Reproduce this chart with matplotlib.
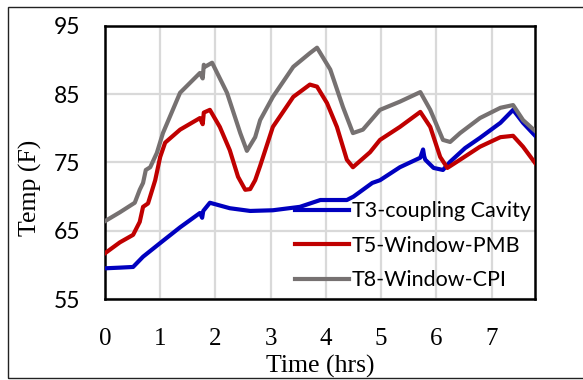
import numpy as np
import matplotlib
matplotlib.use("Agg")
import matplotlib.pyplot as plt
from matplotlib.patches import Rectangle

# values (time in hrs, temperature in F)
t_t3 = [0.0, 0.27, 0.51, 0.69, 1.0, 1.36, 1.72, 1.76, 1.78, 1.9, 2.26, 2.63, 3.04,
        3.53, 3.9, 4.38, 4.5, 4.84, 4.98, 5.34, 5.71, 5.76, 5.78, 5.8, 5.95, 6.12,
        6.25, 6.52, 6.79, 7.16, 7.39, 7.57, 7.79]
temp_t3 = [59.5, 59.6, 59.7, 61.2, 63.2, 65.5, 67.6, 66.9, 67.9, 69.1, 68.3, 67.9, 68.0,
           68.5, 69.5, 69.5, 70.0, 72.0, 72.4, 74.3, 75.7, 76.9, 75.9, 75.4, 74.2, 73.9,
           75.1, 77.1, 78.6, 80.8, 82.7, 80.8, 78.9]

t_t5 = [0.0, 0.27, 0.51, 0.63, 0.69, 0.78, 0.91, 1.0, 1.09, 1.36, 1.72, 1.77, 1.79,
        1.9, 2.08, 2.26, 2.41, 2.54, 2.63, 2.72, 2.81, 3.04, 3.41, 3.71, 3.84, 4.02,
        4.2, 4.38, 4.49, 4.8, 4.98, 5.34, 5.71, 5.89, 6.07, 6.2, 6.43, 6.79, 7.16,
        7.39, 7.57, 7.79]
temp_t5 = [61.7, 63.3, 64.4, 66.3, 68.5, 69.0, 72.4, 75.8, 77.9, 79.8, 81.5, 80.6, 82.3,
           82.7, 80.2, 76.8, 72.9, 71.0, 71.1, 72.4, 74.5, 80.2, 84.6, 86.4, 86.1, 83.7,
           80.2, 75.4, 74.3, 76.5, 78.3, 80.2, 82.4, 80.2, 75.8, 74.2, 75.4, 77.3, 78.7,
           78.9, 77.3, 74.9]

t_t8 = [0.0, 0.27, 0.54, 0.63, 0.69, 0.74, 0.82, 0.94, 1.05, 1.36, 1.72, 1.77, 1.79,
        1.81, 1.94, 2.21, 2.45, 2.57, 2.72, 2.81, 3.04, 3.41, 3.71, 3.84, 4.08, 4.31,
        4.49, 4.67, 4.98, 5.34, 5.71, 5.89, 6.12, 6.25, 6.43, 6.79, 7.16, 7.39, 7.57,
        7.79]
temp_t8 = [66.4, 67.7, 69.1, 71.0, 72.0, 73.9, 74.3, 76.4, 79.3, 85.2, 88.1, 87.3, 89.3,
           89.0, 89.6, 85.2, 79.3, 76.7, 78.7, 81.2, 84.6, 89.0, 91.0, 91.8, 88.6, 83.1,
           79.3, 79.8, 82.7, 83.9, 85.3, 82.7, 78.3, 78.0, 79.3, 81.5, 83.0, 83.4, 81.2,
           79.6]

series_labels = ["T3-coupling Cavity", "T5-Window-PMB", "T8-Window-CPI"]
series_colors = ["#0000BF", "#C00000", "#767171"]

x_ticks = [0, 1, 2, 3, 4, 5, 6, 7]
y_ticks = [55, 65, 75, 85, 95]

fig = plt.figure(figsize=(5.83, 3.80), dpi=100)
ax = fig.add_axes([0.180, 0.213, 0.738, 0.719])

# outer chart border
fig.patches.append(Rectangle((0.0137, 0.005), 1.0, 0.977, transform=fig.transFigure,
                             fill=False, edgecolor="#222222", linewidth=1.0))

for tt, yy, lab, col in zip([t_t3, t_t5, t_t8], [temp_t3, temp_t5, temp_t8],
                            series_labels, series_colors):
    ax.plot(tt, yy, color=col, linewidth=3, label=lab, solid_joinstyle="round", zorder=3)

ax.set_xlim(0, 7.79)
ax.set_ylim(55, 95)
ax.set_xticks(x_ticks)
ax.set_yticks(y_ticks)
ax.grid(True, color="#D9D9D9", linewidth=1.6, zorder=0)
ax.set_axisbelow(True)
for s in ax.spines.values():
    s.set_linewidth(1.8)
    s.set_color("black")

ax.tick_params(axis="both", length=0)
ax.tick_params(axis="x", pad=21)
ax.tick_params(axis="y", pad=18)
for lbl in ax.get_xticklabels():
    lbl.set_fontfamily("Liberation Serif")
    lbl.set_fontsize(18)
for lbl in ax.get_yticklabels():
    lbl.set_fontfamily("Lato")
    lbl.set_fontsize(16.5)

ax.set_xlabel("Time (hrs)", fontfamily="Liberation Serif", fontsize=18.5)
ax.xaxis.set_label_coords(0.5, -0.245)
ax.xaxis.label.set_va("center")
ax.set_ylabel("Temp (F)", fontfamily="Liberation Serif", fontsize=18.5)
ax.yaxis.set_label_coords(-0.172, 0.408)
ax.yaxis.label.set_va("center")

leg = ax.legend(loc="lower right", bbox_to_anchor=(1.01, 0.0), frameon=False,
                prop={"family": "Lato", "size": 15.5}, handlelength=2.5,
                handletextpad=0.15, labelspacing=0.68, borderaxespad=0.0)
for h in leg.get_lines():
    h.set_linewidth(3)

fig.savefig("out.png", dpi=100)
